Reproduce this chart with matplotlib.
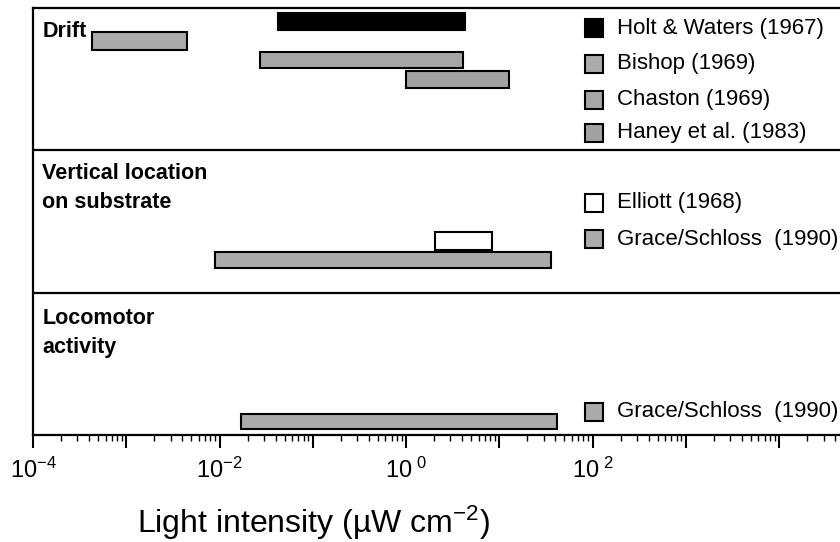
import matplotlib
matplotlib.use("Agg")
import matplotlib.pyplot as plt

plt.rcParams['font.family'] = ['Liberation Sans', 'DejaVu Sans']
plt.rcParams['mathtext.fontset'] = 'custom'
plt.rcParams['mathtext.rm'] = 'Liberation Sans'
plt.rcParams['mathtext.it'] = 'Liberation Sans:italic'
plt.rcParams['mathtext.bf'] = 'Liberation Sans:bold'
plt.rcParams['axes.unicode_minus'] = False

# data: light intensity ranges (uW cm-2)
panels = ["Drift", "Vertical location\non substrate", "Locomotor\nactivity"]
studies = ["Holt & Waters (1967)", "Bishop (1969)", "Chaston (1969)", "Haney et al. (1983)",
           "Elliott (1968)", "Grace/Schloss  (1990)", "Grace/Schloss  (1990)"]
study_panel = [0, 0, 0, 0, 1, 1, 2]
low = [0.042, 0.00043, 0.027, 1.0, 2.05, 0.0090, 0.017]
high = [4.3, 0.0045, 4.1, 12.7, 8.4, 36.0, 42.0]

# layout / style
colors = ['black', '#aaaaaa', '#a6a6a6', '#a2a2a2', 'white', '#aaaaaa', '#aaaaaa']
bar_y = [0.095, 0.232, 0.365, 0.502, 1.637, 1.771, 2.905]
bar_h = [0.119, 0.126, 0.112, 0.119, 0.126, 0.112, 0.105]
leg_y = [0.141, 0.393, 0.646, 0.878, 1.370, 1.623, 2.838]
label_y = [[0.204], [1.201, 1.405], [2.220, 2.424]]

fig = plt.figure(figsize=(8.4, 5.42), dpi=100)
ax = fig.add_axes([33/840, 1-435/542, 1-33/840, 427/542])

for i in range(len(studies)):
    ax.barh(bar_y[i], high[i]-low[i], left=low[i], height=bar_h[i],
            color=colors[i], edgecolor='black', linewidth=1.5)
    ax.plot([10**2.016], [leg_y[i]], marker='s', markersize=13.5,
            markerfacecolor=colors[i], markeredgecolor='black', markeredgewidth=1.5)
    ax.text(10**2.258, leg_y[i], studies[i], ha='left', va='center', fontsize=16)

for p in range(len(panels)):
    lines = panels[p].split("\n")
    for j in range(len(lines)):
        ax.text(10**-3.9, label_y[p][j], lines[j], ha='left', va='baseline',
                fontsize=15.5, fontweight='bold')

ax.axhline(1, color='black', linewidth=1.6)
ax.axhline(2, color='black', linewidth=1.6)

ax.set_xscale('log')
ax.set_xlim(1e-4, 10**4.654)
ax.set_ylim(3, 0)
ax.set_yticks([])

ax.spines['right'].set_visible(False)
for s in ['top', 'left', 'bottom']:
    ax.spines[s].set_linewidth(1.6)

ax.set_xticks([10.0**k for k in range(-4, 5)])
ax.set_xticklabels([r'$\mathregular{10^{-4}}$', '', r'$\mathregular{10^{-2}}$', '',
                    r'$\mathregular{10^{\ 0}}$', '', r'$\mathregular{10^{\ 2}}$', '', ''])
ax.tick_params(axis='x', which='major', direction='out', length=9, width=1.5,
               labelsize=17, pad=7)
ax.tick_params(axis='x', which='minor', direction='out', length=4, width=1.0)

fig.text(137/840, 1-533/542, r'Light intensity (µW cm$^{\mathregular{-2}}$)',
         ha='left', va='baseline', fontsize=23)

fig.savefig('out.png', dpi=100)
